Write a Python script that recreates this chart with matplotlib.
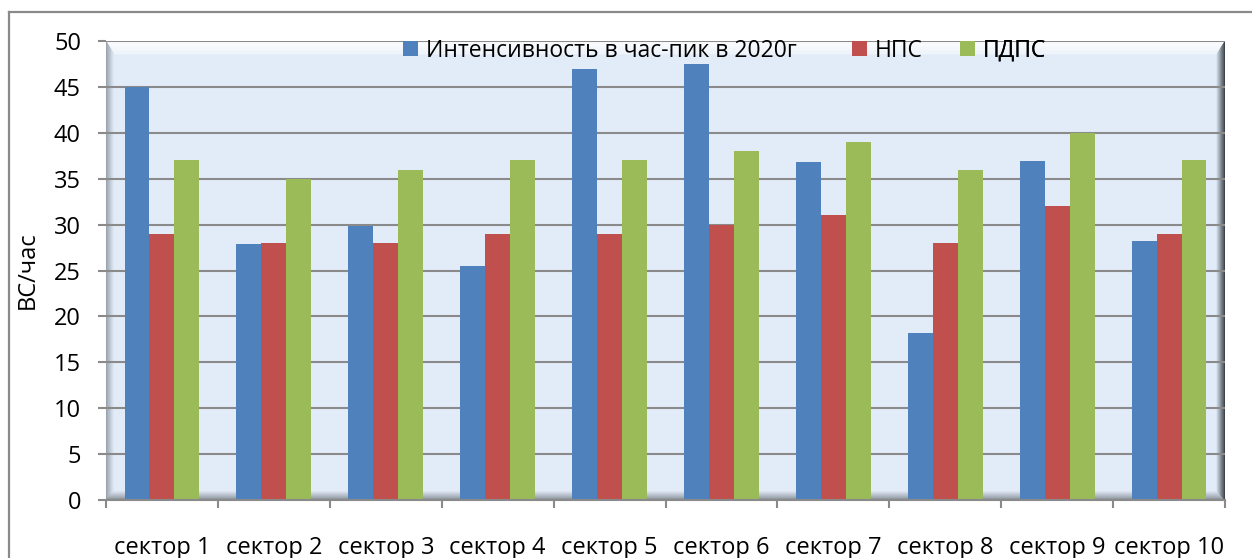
import matplotlib
matplotlib.use("Agg")
import matplotlib.pyplot as plt
from matplotlib.patches import Polygon, Patch
from matplotlib.lines import Line2D
import numpy as np

plt.rcParams['font.family'] = ['Open Sans', 'DejaVu Sans']

# Data
categories = ["сектор 1", "сектор 2", "сектор 3", "сектор 4", "сектор 5",
              "сектор 6", "сектор 7", "сектор 8", "сектор 9", "сектор 10"]
intensity_2020 = [45.0, 27.9, 29.8, 25.5, 47.0, 47.5, 36.8, 18.2, 36.9, 28.2]
nps = [29, 28, 28, 29, 29, 30, 31, 28, 32, 29]
pdps = [37, 35, 36, 37, 37, 38, 39, 36, 40, 37]
series_names = ["Интенсивность в час-пик в 2020г", "НПС", "ПДПС"]
y_ticks = [0, 5, 10, 15, 20, 25, 30, 35, 40, 45, 50]
y_label = "ВС/час"

colors = ["#4f81bd", "#c0504d", "#9bbb59"]

W, H = 1252, 558
fig = plt.figure(figsize=(W / 100, H / 100), dpi=100)

# outer chart frame (runs off the right and bottom edges)
fx0, fy0 = 9 / W, 1 - 12 / H
fig.add_artist(Line2D([fx0, 1.01], [fy0, fy0], transform=fig.transFigure,
                      color="#8a8a8a", lw=1.6))
fig.add_artist(Line2D([fx0, fx0], [fy0, -0.01], transform=fig.transFigure,
                      color="#8a8a8a", lw=1.6))

left_px, right_px, top_px, bot_px = 106, 1225, 41, 500
ax = fig.add_axes([left_px / W, 1 - bot_px / H,
                   (right_px - left_px) / W, (bot_px - top_px) / H])
ax.set_facecolor("#e2ecf8")

aw, ah = right_px - left_px, bot_px - top_px


def band(outer, inner, c_outer, c_inner, steps=10):
    """Bevel edge: stacked trapezoids shading from the outer edge to the inner edge."""
    A, B = np.array(outer[0], float), np.array(outer[1], float)
    C, D = np.array(inner[0], float), np.array(inner[1], float)
    co = np.array(matplotlib.colors.to_rgb(c_outer))
    ci = np.array(matplotlib.colors.to_rgb(c_inner))
    for k in range(steps):
        t0, t1 = k / steps, (k + 1) / steps
        p0a, p0b = A + (C - A) * t0, B + (D - B) * t0
        p1a, p1b = A + (C - A) * t1, B + (D - B) * t1
        col = co + (ci - co) * (t0 + t1) / 2
        ax.add_patch(Polygon([p0a, p0b, p1b, p1a], closed=True,
                             transform=ax.transAxes, facecolor=col,
                             edgecolor=col, lw=0.3, zorder=0.5))


dl, dt, dr, db = 8 / aw, 13 / ah, 8 / aw, 9 / ah
band(((0, 1), (1, 1)), ((dl, 1 - dt), (1 - dr, 1 - dt)), "#ffffff", "#eef4fb")
band(((0, 1), (0, 0)), ((dl, 1 - dt), (dl, db)), "#8f9aa6", "#e2ecf8")
band(((0, 0), (1, 0)), ((dl, db), (1 - dr, db)), "#7d858e", "#dfe8f3")
band(((1, 1), (1, 0)), ((1 - dr, 1 - dt), (1 - dr, db)), "#2a2e33", "#c9d6e4")

x = np.arange(len(categories))
bw = 0.223
for i, (vals, name) in enumerate(zip([intensity_2020, nps, pdps], series_names)):
    ax.bar(x + (i - 1) * bw, vals, width=bw, color=colors[i], zorder=2,
           label=name)

ax.set_xlim(-0.5, len(categories) - 0.5)
ax.set_ylim(0, 50)
ax.set_yticks(y_ticks)
ax.yaxis.grid(True, color="#8a8a8a", lw=1.5, zorder=1)
ax.set_axisbelow(True)
ax.tick_params(axis="y", length=6, width=1.5, color="#8a8a8a", pad=12,
               labelsize=17)
ax.set_xticks(x)
ax.set_xticklabels(categories)
ax.set_xticks(np.arange(-0.5, len(categories)), minor=True)
ax.tick_params(axis="x", which="major", length=0, pad=26, labelsize=17)
ax.tick_params(axis="x", which="minor", length=6, width=1.5, color="#8a8a8a")
for s in ["top", "right", "left"]:
    ax.spines[s].set_visible(False)
ax.spines["bottom"].set_color("#8a8a8a")
ax.spines["bottom"].set_linewidth(1.5)

ax.set_ylabel(y_label, fontsize=17, labelpad=10)

# legend entries placed individually along the top of the plot area
legend_x_px = [403, 852, 960]
for name, col, lx in zip(series_names, colors, legend_x_px):
    lg = ax.legend(handles=[Patch(facecolor=col, edgecolor="none", label=name)],
                   loc="upper left",
                   bbox_to_anchor=((lx - left_px) / aw, 1.005),
                   frameon=False, fontsize=16.5, borderpad=0, borderaxespad=0,
                   handlelength=0.65, handleheight=0.65, handletextpad=0.35)
    ax.add_artist(lg)

fig.savefig("out.png", dpi=100)
